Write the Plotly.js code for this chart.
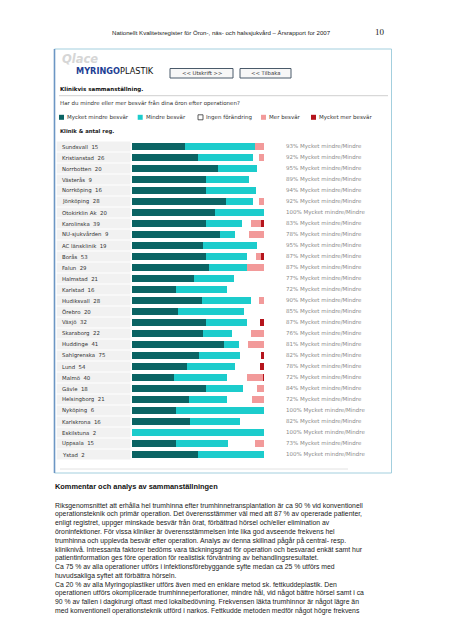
<!DOCTYPE html>
<html>
<head>
<meta charset="utf-8">
<script src="https://cdn.plot.ly/plotly-3.0.1.min.js"></script>
<style>
html,body{margin:0;padding:0;background:#fff;}
#chart{width:452px;height:640px;}
</style>
</head>
<body>
<div id="chart"></div>
<script>
// ---------- DATA ----------
const clinics = ["Sundsvall","Kristianstad","Norrbotten","Västerås","Norrköping","Jönköping","Otokirklin Ak","Karolinska","NU-sjukvården","AC länsklinik","Borås","Falun","Halmstad","Karlstad","Hudiksvall","Örebro","Växjö","Skaraborg","Huddinge","Sahlgrenska","Lund","Malmö","Gävle","Helsingborg","Nyköping","Karlskrona","Eskilstuna","Uppsala","Ystad"];
const counts = [15,26,20,9,16,28,20,39,9,19,53,29,21,16,28,20,32,22,41,75,54,40,18,21,6,16,2,15,2];
const pctBetter = [93,92,95,89,94,92,100,83,78,95,87,87,77,72,90,85,87,76,81,82,78,72,84,72,100,82,100,73,100];

const seriesNames = ["Mycket mindre besvär","Mindre besvär","Ingen förändring","Mer besvär","Mycket mer besvär"];
const mycketMindre = [40,50,65,56,56,71,63,56,67,54,56,58,47,33,53,35,56,54,70,51,42,32,56,43,33,44,0,33,50];
const mindre       = [53,42,30,33,38,21,37,27,11,41,31,29,30,39,37,50,31,22,11,31,36,40,28,29,67,38,100,40,50];
const ingen        = [0,4,5,11,6,4,0,7,11,5,7,0,23,28,6,15,10,14,7,16,19,15,11,19,0,18,0,20,0];
const mer          = [7,4,0,0,0,4,0,7.5,11,0,4,13,0,0,4,0,0,10,12,0,0,12,5,9,0,0,0,7,0];
const mycketMer    = [0,0,0,0,0,0,0,2.5,0,0,2,0,0,0,0,0,3,0,0,2,3,1,0,0,0,0,0,0,0];

const pctSuffix = "% Mycket mindre/Mindre";
const headerText = "Nationellt Kvalitetsregister för Öron-, näs- och halssjukvård – Årsrapport for 2007";
const pageNumber = "10";
const commentTitle = "Kommentar och analys av sammanställningen";
const commentLines = [
"Riksgenomsnittet att erhålla hel trumhinna efter trumhinnetransplantation är ca 90 % vid konventionell",
"operationsteknik och primär operation. Det överensstämmer väl med att 87 % av opererade patienter,",
"enligt registret, uppger minskade besvär från örat, förbättrad hörsel och/eller elimination av",
"öroninfektioner. För vissa kliniker är överensstämmelsen inte lika god avseende frekvens hel",
"trumhinna och upplevda besvär efter operation. Analys av denna skillnad pågår på central- resp.",
"kliniknivå. Intressanta faktorer bedöms vara täckningsgrad för operation och besvarad enkät samt hur",
"patientinformation ges före operation för realistisk förväntning av behandlingsresultatet.",
"Ca 75 % av alla operationer utförs i infektionsförebyggande syfte medan ca 25 % utförs med",
"huvudsakliga syftet att förbättra hörseln.",
"Ca 20 % av alla Myringoplastiker utförs även med en enklare metod sk. fettkuddeplastik. Den",
"operationen utförs okomplicerade trumhinneperforationer, mindre hål, vid något bättre hörsel samt i ca",
"90 % av fallen i dagkirurgi oftast med lokalbedövning. Frekvensen läkta trumhinnor är något lägre än",
"med konventionell operationsteknik utförd i narkos. Fettkudde metoden medför något högre frekvens"
];

// ---------- STYLE ----------
const colors = ["#0b6464","#1ccccc","#ffffff","#f29a9a","#b5141c"];
const W = 452, H = 640;
const M = {l:132, r:188, t:141, b:180};
const PW = W - M.l - M.r, PH = H - M.t - M.b;
const px = p => (p - M.l) / PW;
const py = p => 1 - (p - M.t) / PH;
const uiFont = "DejaVu Sans, Verdana, sans-serif";
const docFont = "Liberation Sans, Arial, sans-serif";

const seriesValues = [mycketMindre, mindre, ingen, mer, mycketMer];
const traces = seriesValues.map((vals, k) => ({
  type: "bar",
  orientation: "h",
  name: seriesNames[k],
  y: clinics,
  x: vals,
  marker: {color: colors[k], line: {width: 0}},
  hoverinfo: "skip",
  showlegend: false
}));

const shapes = [];
const annotations = [];

// outer box
shapes.push({type:"rect", xref:"paper", yref:"paper", x0:px(54.5), x1:px(391.5), y0:py(49), y1:py(473),
  line:{color:"#a3cfde", width:1}, fillcolor:"rgba(0,0,0,0)", layer:"below"});
shapes.push({type:"line", xref:"paper", yref:"paper", x0:px(54.5), x1:px(54.5), y0:py(49), y1:py(473),
  line:{color:"#6c96c4", width:1.6}});
// separators
shapes.push({type:"line", xref:"paper", yref:"paper", x0:px(59), x1:px(388), y0:py(95.7), y1:py(95.7),
  line:{color:"#cfcfcf", width:1}});
shapes.push({type:"line", xref:"paper", yref:"paper", x0:px(60), x1:px(348), y0:py(469), y1:py(469),
  line:{color:"#e2e2e2", width:1}});

// header
annotations.push({xref:"paper", yref:"paper", x:px(110), y:py(32), xanchor:"left", yanchor:"middle",
  text:headerText, showarrow:false, font:{family:docFont, size:6.1, color:"#222"}});
annotations.push({xref:"paper", yref:"paper", x:px(373), y:py(32), xanchor:"left", yanchor:"middle",
  text:pageNumber, showarrow:false, font:{family:"Liberation Serif, Times New Roman, serif", size:9, color:"#222"}});

// logo
annotations.push({xref:"paper", yref:"paper", x:px(60), y:py(59), xanchor:"left", yanchor:"middle",
  text:"<b><i>Qlace</i></b>", showarrow:false, font:{family:uiFont, size:11.5, color:"#d6d6d6"}});
annotations.push({xref:"paper", yref:"paper", x:px(74), y:py(71.5), xanchor:"left", yanchor:"middle",
  text:"<b><span style='color:#1d3e94'>MYRINGO</span></b><span style='color:#111'>PLASTIK</span>",
  showarrow:false, font:{family:uiFont, size:8.2, color:"#111"}});

// buttons
[[170,233,"&lt;&lt; Utskrift &gt;&gt;"],[240,291,"&lt;&lt; Tilbaka"]].forEach(b => {
  shapes.push({type:"rect", xref:"paper", yref:"paper", x0:px(b[0]), x1:px(b[1]), y0:py(68.5), y1:py(78),
    line:{color:"#4a5a6a", width:1}, fillcolor:"#f7f7f7"});
  annotations.push({xref:"paper", yref:"paper", x:px((b[0]+b[1])/2), y:py(73.3), xanchor:"center", yanchor:"middle",
    text:b[2], showarrow:false, font:{family:uiFont, size:5.3, color:"#333"}});
});

// section titles
annotations.push({xref:"paper", yref:"paper", x:px(58), y:py(89), xanchor:"left", yanchor:"middle",
  text:"<b>Klinikvis sammanställning.</b>", showarrow:false, font:{family:uiFont, size:5.5, color:"#111"}});
annotations.push({xref:"paper", yref:"paper", x:px(58), y:py(103.7), xanchor:"left", yanchor:"middle",
  text:"Har du mindre eller mer besvär från dina öron efter operationen?", showarrow:false,
  font:{family:uiFont, size:5.5, color:"#333"}});
annotations.push({xref:"paper", yref:"paper", x:px(58), y:py(131), xanchor:"left", yanchor:"middle",
  text:"<b>Klinik &amp; antal reg.</b>", showarrow:false, font:{family:uiFont, size:5.3, color:"#222"}});

// legend
const legendX = [59, 137.7, 198, 261, 311];
seriesNames.forEach((n, k) => {
  const x0 = legendX[k];
  shapes.push({type:"rect", xref:"paper", yref:"paper", x0:px(x0), x1:px(x0+5), y0:py(114.8), y1:py(119.8),
    line:{color: k===2 ? "#333" : colors[k], width: k===2 ? 0.8 : 0}, fillcolor:colors[k]});
  annotations.push({xref:"paper", yref:"paper", x:px(x0+6), y:py(117.3), xanchor:"left", yanchor:"middle",
    text:n, showarrow:false, font:{family:uiFont, size:5.5, color:"#333"}});
});

// row label cells, labels and right-hand percentages
clinics.forEach((c, i) => {
  shapes.push({type:"rect", xref:"paper", yref:"y", x0:px(56.7), x1:px(130.5), y0:i-0.46, y1:i+0.46,
    line:{width:0}, fillcolor:"#f1f1f1", layer:"below"});
  annotations.push({xref:"paper", yref:"y", x:px(59.5), y:c, xanchor:"left", yanchor:"middle",
    text:c + "  " + counts[i], showarrow:false, font:{family:uiFont, size:5.4, color:"#333"}});
  annotations.push({xref:"paper", yref:"y", x:px(284), y:c, xanchor:"left", yanchor:"middle",
    text:pctBetter[i] + pctSuffix, showarrow:false, font:{family:uiFont, size:5.5, color:"#8a8a8a"}});
});

// comment section
annotations.push({xref:"paper", yref:"paper", x:px(53), y:py(486), xanchor:"left", yanchor:"middle",
  text:"<b>" + commentTitle + "</b>", showarrow:false, font:{family:docFont, size:7.4, color:"#111"}});
const lineY = 505.7, lineStep = 8.77;
commentLines.forEach((t, j) => {
  annotations.push({xref:"paper", yref:"paper", x:px(52.5), y:py(lineY + j*lineStep), xanchor:"left", yanchor:"middle",
    text:t, showarrow:false, font:{family:docFont, size:6.85, color:"#1a1a1a"}});
});

const layout = {
  width: W, height: H,
  margin: M,
  paper_bgcolor: "#ffffff",
  plot_bgcolor: "rgba(0,0,0,0)",
  barmode: "stack",
  bargap: 0.33,
  showlegend: false,
  xaxis: {range:[0,100], visible:false, fixedrange:true},
  yaxis: {type:"category", categoryorder:"array", categoryarray:clinics, range:[clinics.length-0.5,-0.5],
          visible:false, fixedrange:true},
  shapes: shapes,
  annotations: annotations
};

Plotly.newPlot("chart", traces, layout, {displayModeBar:false, staticPlot:true});
</script>
</body>
</html>
